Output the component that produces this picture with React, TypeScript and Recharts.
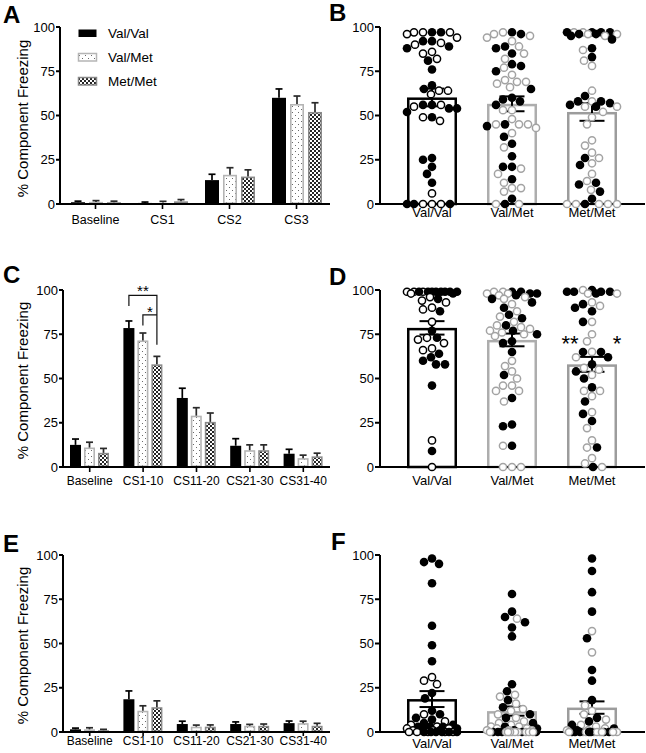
import React from 'react';
import { ComposedChart, Bar, XAxis, YAxis, ErrorBar, Scatter } from 'recharts';

// ---------- categories ----------
const groups = ['Val/Val', 'Val/Met', 'Met/Met'];
const acqPhases = ['Baseline', 'CS1', 'CS2', 'CS3'];
const blockPhases = ['Baseline', 'CS1-10', 'CS11-20', 'CS21-30', 'CS31-40'];
const yTicks = [0, 25, 50, 75, 100];

// ---------- panel A : acquisition by trial ----------
const acqValVal = [1.0, 0.6, 13.5, 60.0];
const acqValValSem = [0.6, 0.5, 3.3, 5.0];
const acqValMet = [1.2, 0.8, 16.5, 56.5];
const acqValMetSem = [0.7, 0.7, 4.0, 4.5];
const acqMetMet = [1.0, 1.5, 15.5, 52.0];
const acqMetMetSem = [0.6, 1.0, 3.8, 5.2];

// ---------- panel B : acquisition CS3 per animal ----------
const acqMean = [60.2, 56.6, 52.0];
const acqSem = [5.0, 4.2, 5.0];
const acqVVFilled = [97, 97, 92, 92, 89, 88, 81, 76, 67, 65, 56, 56, 54, 54, 52, 49, 26, 25, 21, 17, 12, 0, 0, 0];
const acqVVOpen = [97, 97, 97, 96, 94, 91, 90, 86, 85, 82, 64, 64, 62, 56, 55, 49, 47, 6, 0, 0, 0];
const acqVMFilled = [97, 96, 89, 88, 85, 79, 78, 75, 65, 60, 59, 58, 56, 45, 44, 38, 34, 27, 21, 21, 14, 3, 0];
const acqVMOpen = [97, 96, 95, 94, 92, 89, 85, 82, 77, 73, 70, 69, 69, 68, 66, 53, 53, 48, 45, 45, 45, 43, 40, 32, 20, 17, 12, 9, 9, 7, 0, 0];
const acqMMFilled = [97, 97, 97, 97, 96, 96, 95, 93, 88, 83, 61, 58, 58, 57, 56, 55, 26, 22, 12, 11, 7, 3, 0];
const acqMMOpen = [97, 97, 96, 96, 95, 87, 81, 78, 64, 58, 55, 55, 52, 49, 45, 36, 33, 29, 26, 23, 17, 13, 8, 0, 0, 0, 0, 0];

// ---------- panel C : extinction blocks ----------
const extValVal = [12.5, 78.5, 39.0, 12.0, 7.5];
const extValValSem = [3.3, 4.0, 5.5, 4.0, 2.5];
const extValMet = [11.0, 71.5, 29.0, 9.5, 5.0];
const extValMetSem = [3.0, 4.2, 4.5, 3.0, 1.7];
const extMetMet = [8.0, 58.0, 25.5, 9.5, 6.0];
const extMetMetSem = [2.5, 4.5, 5.0, 3.0, 1.8];

// ---------- panel D : extinction CS1-10 per animal ----------
const extMean = [78.6, 71.8, 58.0];
const extSem = [3.8, 3.6, 4.2];
const extVVFilled = [99, 99, 99, 99, 99, 99, 99, 99, 98, 95, 88, 77, 73, 64, 62, 60, 58, 58, 46, 9];
const extVVOpen = [99, 99, 99, 98, 96, 94, 93, 90, 89, 82, 73, 72, 70, 67, 66, 15, 0];
const extVMFilled = [99, 99, 98, 98, 97, 95, 93, 90, 86, 84, 80, 77, 75, 71, 70, 65, 52, 39, 24, 23, 12];
const extVMOpen = [99, 99, 98, 98, 97, 96, 95, 92, 88, 85, 82, 80, 79, 78, 77, 76, 75, 74, 60, 57, 54, 50, 46, 46, 43, 43, 37, 12, 0, 0, 0];
const extMMFilled = [100, 99, 99, 99, 99, 98, 92, 90, 88, 82, 65, 65, 62, 58, 54, 50, 45, 37, 30, 26, 11, 0];
const extMMOpen = [98, 100, 98, 93, 91, 82, 75, 71, 65, 62, 56, 55, 52, 43, 43, 40, 31, 22, 15, 11, 5, 2, 0];

// ---------- panel E : recall blocks ----------
const recValVal = [1.5, 18.5, 4.5, 4.5, 5.0];
const recValValSem = [0.7, 4.7, 1.6, 1.2, 1.2];
const recValMet = [1.5, 12.0, 3.0, 3.5, 5.0];
const recValMetSem = [0.9, 2.8, 0.9, 0.8, 1.1];
const recMetMet = [1.0, 14.0, 3.0, 3.5, 3.5];
const recMetMetSem = [0.5, 3.6, 1.0, 1.0, 1.4];

// ---------- panel F : recall CS1-10 per animal ----------
const recMean = [18.6, 11.8, 13.8];
const recSem = [4.5, 2.6, 3.5];
const recVVFilled = [98, 96, 95, 84, 60, 49, 40, 22, 19, 12, 10, 8, 7, 5, 4, 3, 3, 3, 2, 2, 1, 1, 0, 0, 0, 0, 0, 0];
const recVVOpen = [31, 29, 27, 10, 6, 4, 3, 2, 2, 1, 1, 0, 0, 0, 0, 0];
const recVMFilled = [78, 68, 65, 62, 59, 54, 27, 23, 18, 14, 10, 8, 5, 3, 2, 1, 0, 0, 0, 0, 0];
const recVMOpen = [64, 21, 20, 16, 13, 12, 10, 8, 6, 5, 4, 3, 3, 2, 2, 1, 1, 1, 0, 0, 0, 0, 0, 0, 0, 0, 0, 0];
const recMMFilled = [98, 91, 79, 68, 53, 35, 29, 18, 8, 6, 4, 2, 1, 0, 0, 0, 0, 0, 0, 0];
const recMMOpen = [57, 45, 15, 12, 10, 7, 4, 3, 2, 1, 1, 0, 0, 0, 0, 0, 0, 0, 0, 0];

// ---------- layout / style ----------
const FONT = '"Liberation Sans", Arial, Helvetica, sans-serif';
const PLOT_H = 177;
const PX_PER_UNIT = PLOT_H / 100;

const seriesStyle: any = {
  vv: { fill: '#000', stroke: '#000', sw: 0, err: '#000' },
  vm: { fill: 'url(#dotFill)', stroke: '#b5b5b5', sw: 1.6, err: '#2a2a2a' },
  mm: { fill: 'url(#checkFill)', stroke: '#8a8a8a', sw: 1.6, err: '#2a2a2a' },
};
const groupStroke: any = { 'Val/Val': '#000', 'Val/Met': '#adadad', 'Met/Met': '#9c9c9c' };

function barTable(phases: string[], vv: number[], vvE: number[], vm: number[], vmE: number[], mm: number[], mmE: number[]) {
  return phases.map((p, i) => ({ phase: p, vv: vv[i], vvErr: vvE[i], vm: vm[i], vmErr: vmE[i], mm: mm[i], mmErr: mmE[i] }));
}

function makeGroupedShape(key: string) {
  const st = seriesStyle[key];
  return (p: any) => {
    const { x, y, width, height, payload } = p;
    const val = payload[key];
    const err = payload[key + 'Err'];
    const k = val > 0 && height > 0 ? height / val : PX_PER_UNIT;
    const top = y - err * k;
    const cx = x + width / 2;
    const h = st.sw;
    return (
      <g>
        <rect
          x={x + h / 2}
          y={y + h / 2}
          width={Math.max(width - h, 0)}
          height={Math.max(height - h, 0)}
          fill={st.fill}
          stroke={h ? st.stroke : 'none'}
          strokeWidth={h}
        />
        <line x1={cx} x2={cx} y1={y} y2={top} stroke={st.err} strokeWidth={1.7} />
        <line x1={cx - 3.5} x2={cx + 3.5} y1={top} y2={top} stroke={st.err} strokeWidth={1.7} />
      </g>
    );
  };
}
const shapeVV = makeGroupedShape('vv');
const shapeVM = makeGroupedShape('vm');
const shapeMM = makeGroupedShape('mm');

function OutlineBar(p: any) {
  const { x, y, width, height, payload } = p;
  const sw = 2.5;
  return (
    <rect x={x + sw / 2} y={y + sw / 2} width={width - sw} height={Math.max(height - sw / 2, 0)} fill="#fff" stroke={groupStroke[payload.group]} strokeWidth={sw} />
  );
}

function DotShape(p: any) {
  const { cx, cy, payload } = p;
  if (cx == null || cy == null) return <g />;
  const x = cx + payload.dx;
  if (payload.filled) return <circle cx={x} cy={cy} r={4.3} fill="#000" />;
  return <circle cx={x} cy={cy} r={3.6} fill="#fff" stroke={payload.group === 'Val/Val' ? '#000' : '#a3a3a3'} strokeWidth={1.5} />;
}

// beeswarm layout (pixel offsets around the category centre)
function swarm(filled: number[], open: number[], diam = 8.4, cap = 25) {
  const inter: { v: number; filled: boolean }[] = [];
  const n = Math.max(filled.length, open.length);
  for (let i = 0; i < n; i++) {
    if (i < filled.length) inter.push({ v: filled[i], filled: true });
    if (i < open.length) inter.push({ v: open[i], filled: false });
  }
  inter.sort((a, b) => b.v - a.v);
  const cands: number[] = [0];
  for (let d = 1; d <= cap; d++) cands.push(-d, d);
  const placed: { v: number; filled: boolean; x: number; y: number }[] = [];
  for (const p of inter) {
    const y = p.v * PX_PER_UNIT;
    let best = 0;
    let bestScore = -1;
    for (const x of cands) {
      let minD = Infinity;
      for (const q of placed) {
        const dy = q.y - y;
        if (Math.abs(dy) >= diam) continue;
        const dd = Math.hypot(q.x - x, dy);
        if (dd < minD) minD = dd;
      }
      if (minD >= diam) { best = x; break; }
      if (minD > bestScore + 0.01) { bestScore = minD; best = x; }
    }
    placed.push({ ...p, x: best, y });
  }
  return placed;
}

const yAxisCommon = {
  domain: [0, 100] as [number, number],
  ticks: yTicks,
  interval: 0 as const,
  axisLine: { stroke: '#000', strokeWidth: 2 },
  tickLine: { stroke: '#000', strokeWidth: 2 },
  tick: { fontSize: 13, fill: '#000', fontFamily: FONT },
};

function GroupedPanel({ left, top, height, yWidth, data, barSize, barGap, xHeight, tickSize, tickMargin, fontSize, padLeft }: any) {
  return (
    <div style={{ position: 'absolute', left, top }}>
      <ComposedChart width={333} height={height} data={data} margin={{ top: 27, right: 3, left: 0, bottom: 0 }} barGap={barGap}>
        <XAxis
          dataKey="phase"
          interval={0}
          height={xHeight}
          padding={{ left: padLeft, right: 0 }}
          axisLine={{ stroke: '#000', strokeWidth: 2 }}
          tickLine={{ stroke: '#000', strokeWidth: 1.6 }}
          tickSize={tickSize}
          tickMargin={tickMargin}
          tick={{ fontSize, fill: '#000', fontFamily: FONT }}
        />
        <YAxis {...yAxisCommon} width={yWidth} tickSize={4} tickMargin={1} />
        <Bar dataKey="vv" barSize={barSize} shape={shapeVV} isAnimationActive={false} />
        <Bar dataKey="vm" barSize={barSize} shape={shapeVM} isAnimationActive={false} />
        <Bar dataKey="mm" barSize={barSize} shape={shapeMM} isAnimationActive={false} />
      </ComposedChart>
    </div>
  );
}

function DotPanel({ left, top, height, xHeight, tickSize, tickMargin, means, sems, dots }: any) {
  const data = groups.map((g, i) => ({ group: g, mean: means[i], sem: sems[i] }));
  const pts = groups.flatMap((g, i) =>
    swarm(dots[i][0], dots[i][1]).map((p) => ({ group: g, v: p.v, dx: p.x, filled: p.filled }))
  );
  return (
    <div style={{ position: 'absolute', left, top }}>
      <ComposedChart width={326} height={height} data={data} margin={{ top: 27, right: 1, left: 0, bottom: 0 }}>
        <XAxis
          dataKey="group"
          allowDuplicatedCategory={false}
          interval={0}
          height={xHeight}
          padding={{ left: 12, right: 13 }}
          axisLine={{ stroke: '#000', strokeWidth: 2 }}
          tickLine={false}
          tickSize={tickSize}
          tickMargin={tickMargin}
          tick={{ fontSize: 13, fill: '#000', fontFamily: FONT }}
        />
        <YAxis {...yAxisCommon} width={60} tickSize={5} tickMargin={1} />
        <Bar dataKey="mean" barSize={50} shape={OutlineBar} isAnimationActive={false}>
          <ErrorBar dataKey="sem" width={12.5} stroke="#000" strokeWidth={2} direction="y" />
        </Bar>
        <Scatter data={pts} dataKey="v" shape={DotShape} isAnimationActive={false} />
      </ComposedChart>
    </div>
  );
}

// overlay geometry helpers (same layout constants as the charts)
const C_TOP = 290;
const cY = (v: number) => C_TOP + (100 - v) * PX_PER_UNIT;
const cBand = 267 / 5;
const cBarCenter = (i: number, j: number) => 63 + i * cBand + Math.floor((cBand - 39) / 2) + 5.5 + j * 14;
const dCenter = (i: number) => 380 + 12 + (i + 0.5) * 80;

const legendItems = [
  { name: 'Val/Val', fill: '#000', stroke: 'none' },
  { name: 'Val/Met', fill: 'url(#dotFill)', stroke: '#b5b5b5' },
  { name: 'Met/Met', fill: 'url(#checkFill)', stroke: '#8a8a8a' },
];

export default function App() {
  const dataA = barTable(acqPhases, acqValVal, acqValValSem, acqValMet, acqValMetSem, acqMetMet, acqMetMetSem);
  const dataC = barTable(blockPhases, extValVal, extValValSem, extValMet, extValMetSem, extMetMet, extMetMetSem);
  const dataE = barTable(blockPhases, recValVal, recValValSem, recValMet, recValMetSem, recMetMet, recMetMetSem);

  const x1 = cBarCenter(1, 0);
  const x2 = cBarCenter(1, 1);
  const x3 = cBarCenter(1, 2);

  return (
    <div style={{ position: 'absolute', left: 0, top: 0, width: 646, height: 753, overflow: 'hidden', background: '#fff', fontFamily: FONT }}>
      <GroupedPanel left={0} top={0} height={230} yWidth={60} data={dataA} barSize={14} barGap={4} xHeight={26} tickSize={5} tickMargin={6} fontSize={12.5} padLeft={2} />
      <DotPanel left={320} top={0} height={230} xHeight={26} tickSize={4} tickMargin={0} means={acqMean} sems={acqSem}
        dots={[[acqVVFilled, acqVVOpen], [acqVMFilled, acqVMOpen], [acqMMFilled, acqMMOpen]]} />

      <GroupedPanel left={0} top={263} height={230} yWidth={63} data={dataC} barSize={11} barGap={3} xHeight={26} tickSize={5} tickMargin={4} fontSize={12} padLeft={0} />
      <DotPanel left={320} top={263} height={230} xHeight={26} tickSize={5} tickMargin={4} means={extMean} sems={extSem}
        dots={[[extVVFilled, extVVOpen], [extVMFilled, extVMOpen], [extMMFilled, extMMOpen]]} />

      <GroupedPanel left={0} top={528} height={225} yWidth={63} data={dataE} barSize={11} barGap={3} xHeight={21} tickSize={4} tickMargin={0} fontSize={12} padLeft={0} />
      <DotPanel left={320} top={528} height={225} xHeight={21} tickSize={4} tickMargin={3} means={recMean} sems={recSem}
        dots={[[recVVFilled, recVVOpen], [recVMFilled, recVMOpen], [recMMFilled, recMMOpen]]} />

      <svg width={646} height={753} style={{ position: 'absolute', left: 0, top: 0, pointerEvents: 'none' }}>
        <defs>
          <pattern id="dotFill" width="6" height="6" patternUnits="userSpaceOnUse">
            <rect width="6" height="6" fill="#fff" />
            <rect x="1" y="1" width="1" height="1" fill="#6a6a6a" />
            <rect x="4" y="4" width="1" height="1" fill="#6a6a6a" />
          </pattern>
          <pattern id="checkFill" width="4" height="4" patternUnits="userSpaceOnUse">
            <rect width="4" height="4" fill="#fff" />
            <rect x="0" y="0" width="2" height="2" fill="#262626" />
            <rect x="2" y="2" width="2" height="2" fill="#262626" />
          </pattern>
        </defs>

        {/* panel letters */}
        <g fontFamily={FONT} fontWeight="bold" fontSize={24} fill="#000">
          <text x={3} y={23}>A</text>
          <text x={329} y={21}>B</text>
          <text x={3} y={283}>C</text>
          <text x={329} y={285}>D</text>
          <text x={3} y={552}>E</text>
          <text x={331} y={550}>F</text>
        </g>

        {/* y-axis titles of grouped panels */}
        <g fontFamily={FONT} fontSize={15} fill="#000" textAnchor="middle">
          <text transform={`translate(22,${27 + PLOT_H / 2 + 3}) rotate(-90)`} dominantBaseline="central">% Component Freezing</text>
          <text transform={`translate(22,${290 + PLOT_H / 2 + 2}) rotate(-90)`} dominantBaseline="central">% Component Freezing</text>
          <text transform={`translate(22,${555 + PLOT_H / 2 + 2}) rotate(-90)`} dominantBaseline="central">% Component Freezing</text>
        </g>

        {/* legend of panel A */}
        {legendItems.map((it, i) => (
          <g key={it.name}>
            <rect x={78.5} y={29.5 + i * 24} width={18} height={7.5} fill={it.fill} stroke={it.stroke} strokeWidth={it.stroke === 'none' ? 0 : 1.5} />
            <text x={108} y={37.5 + i * 24} fontFamily={FONT} fontSize={13.5} fill="#000">{it.name}</text>
          </g>
        ))}

        {/* significance brackets in panel C */}
        <g stroke="#111" strokeWidth={1.2} fill="none">
          <polyline points={`${x1},${cY(91)} ${x1},${cY(97)} ${x3},${cY(97)} ${x3},${cY(69)}`} />
          <polyline points={`${x2},${cY(80)} ${x2},${cY(86)} ${x3},${cY(86)}`} />
        </g>
        <g fontFamily={FONT} fontSize={15} fill="#000" textAnchor="middle">
          <text x={(x1 + x3) / 2} y={cY(96.5)}>**</text>
          <text x={(x2 + x3) / 2} y={cY(84.7)}>*</text>
        </g>

        {/* significance stars in panel D */}
        <g fontFamily={FONT} fontSize={22} fill="#000" textAnchor="middle">
          <text x={dCenter(2) - 22} y={351}>**</text>
          <text x={dCenter(2) + 25} y={351}>*</text>
        </g>
      </svg>
    </div>
  );
}
